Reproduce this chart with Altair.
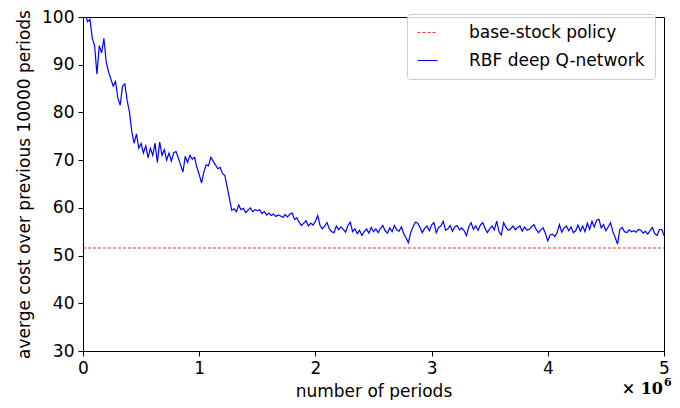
import altair as alt
import pandas as pd

# RBF deep Q-network: average cost over previous 10000 periods, sampled every 20000 periods (0 .. 5e6)
step = 20000
rbf_cost = [
    101, 100.5, 99, 99.5, 95.5, 94, 88, 94, 92.5, 95.5,
    90.5, 88.5, 87, 85.5, 86.5, 83, 81.5, 85.5, 86, 82.5,
    80, 76, 73.5, 75.5, 72.5, 73.5, 71.5, 73, 70.5, 72.5,
    71, 73.5, 69.5, 73.8, 71, 72.2, 70, 71.5, 69.8, 71.5,
    71.8, 70.5, 69, 67.5, 70.8, 69.5, 71, 70.2, 70.6, 68.5,
    67, 65.2, 67.5, 69, 68.8, 70.6, 69.8, 69, 68.2, 68.5,
    67.2, 66.8, 64.5, 62.0, 59.5, 59.8, 59.2, 60.6, 59.6, 59.9,
    59.0, 59.5, 60.0, 59.2, 59.6, 59.4, 59.6, 58.8, 59.2, 58.5,
    58.9, 58.4, 58.7, 58.2, 58.5, 58.3, 58.0, 58.6, 58.1, 58.7,
    58.9, 57.6, 57.9, 57.0, 56.3, 56.8, 57.3, 56.2, 56.8, 56.4,
    57.2, 58.4, 56.3, 55.6, 56.2, 56.9, 55.6, 55.0, 54.8, 56.2,
    55.4, 56.0, 55.5, 54.9, 56.3, 57.0, 55.0, 55.6, 54.6, 55.3,
    54.2, 55.0, 55.6, 54.7, 55.9, 55.0, 55.6, 54.8, 55.7, 56.3,
    55.2, 54.7, 55.8, 55.0, 56.3, 55.4, 55.1, 56.0, 54.6, 53.7,
    52.7, 54.8, 56.0, 57.0, 56.8, 55.9, 54.8, 55.7, 56.2, 55.2,
    56.4, 56.9, 54.8, 55.9, 56.2, 57.2, 55.3, 55.6, 56.3, 55.1,
    56.0, 56.3, 55.4, 55.8, 55.2, 54.2, 56.0, 56.9, 55.5, 56.2,
    55.3, 56.4, 56.9, 55.7, 54.8, 55.6, 56.2, 55.4, 57.2, 55.0,
    54.3, 56.9, 55.9, 55.3, 55.6, 56.2, 55.4, 55.9, 56.2, 55.1,
    56.0, 55.3, 55.5, 56.0, 56.5, 55.5, 54.8, 55.4, 55.8, 54.6,
    53.1, 54.3, 54.5, 54.0, 54.8, 56.5, 54.9, 55.8, 56.2, 55.2,
    56.0, 54.8, 55.2, 56.4, 55.1, 56.2, 55.0, 56.8, 55.5, 57.2,
    56.0, 57.4, 57.6, 55.8, 56.5, 55.2, 56.0, 56.9, 55.0, 53.8,
    52.4, 55.5, 55.9, 55.0, 54.8, 55.4, 55.0, 55.2, 54.9, 55.5,
    55.3, 54.7, 55.1, 54.5, 55.2, 55.9, 54.6, 54.2, 55.4, 55.5,
    54.2,
]
base_stock_periods = [0, 5000000]
base_stock_cost = [51.6, 51.6]

series_names = ["base-stock policy", "RBF deep Q-network"]
x_ticks = [0, 1000000, 2000000, 3000000, 4000000, 5000000]
y_ticks = [30, 40, 50, 60, 70, 80, 90, 100]

rows = []
for p, c in zip(base_stock_periods, base_stock_cost):
    rows.append({"series": series_names[0], "period": p, "cost": c})
for i, c in enumerate(rbf_cost):
    rows.append({"series": series_names[1], "period": i * step, "cost": c})
df = pd.DataFrame(rows)

W, H = 581, 334

legend_kw = dict(title=None, orient="none", legendX=324, legendY=-3,
                 symbolType="M-2.5,0H2.5", symbolSize=64, symbolOffset=2,
                 symbolStrokeWidth=1.2,
                 labelFontSize=17, labelFont="DejaVu Sans", labelLimit=0,
                 labelColor="black", labelOffset=33,
                 rowPadding=10, padding=10,
                 fillColor="rgba(255,255,255,0.8)",
                 strokeColor="#cccccc", cornerRadius=3)

lines = alt.Chart(df).mark_line(clip=True).encode(
    x=alt.X("period:Q",
            scale=alt.Scale(domain=[0, 5000000], nice=False, zero=False),
            axis=alt.Axis(values=x_ticks, title="number of periods",
                          labelExpr="format(datum.value / 1000000, 'd')",
                          labelFlush=False, titlePadding=7)),
    y=alt.Y("cost:Q",
            scale=alt.Scale(domain=[30, 100], nice=False, zero=False),
            axis=alt.Axis(values=y_ticks, title="averge cost over previous 10000 periods",
                          labelFlush=False, titlePadding=8)),
    color=alt.Color("series:N",
                    scale=alt.Scale(domain=series_names, range=["#ff2a2a", "#0000ff"]),
                    legend=alt.Legend(**legend_kw)),
    strokeDash=alt.StrokeDash("series:N",
                              scale=alt.Scale(domain=series_names, range=[[3, 2], [1, 0]]),
                              legend=alt.Legend(**legend_kw)),
    strokeWidth=alt.StrokeWidth("series:N",
                                scale=alt.Scale(domain=series_names, range=[1.1, 1.2]),
                                legend=None),
)

mult = pd.DataFrame({"t": ["× 10"]})
mult_text = alt.Chart(mult).mark_text(
    font="DejaVu Serif", fontWeight="bold", fontSize=16, align="right", baseline="alphabetic",
    color="black"
).encode(text="t:N", x=alt.value(580), y=alt.value(377))

exp_df = pd.DataFrame({"t": ["6"]})
exp_text = alt.Chart(exp_df).mark_text(
    font="DejaVu Serif", fontWeight="bold", fontSize=11, align="left", baseline="alphabetic",
    color="black"
).encode(text="t:N", x=alt.value(581), y=alt.value(369))

chart = alt.layer(lines, mult_text, exp_text).properties(
    width=W, height=H,
    autosize=alt.AutoSizeParams(type="none"),
    padding={"left": 75, "top": 9, "right": 8, "bottom": 49},
).configure_view(
    stroke="black", strokeWidth=1
).configure_axis(
    grid=False, domainColor="black", tickColor="black", tickSize=5,
    labelFont="DejaVu Sans", labelFontSize=17, labelColor="black",
    titleFont="DejaVu Sans", titleFontSize=17, titleFontWeight="normal", titleColor="black",
    labelPadding=4
)

chart.save("out.html", embed_options={"renderer": "svg", "actions": False})
